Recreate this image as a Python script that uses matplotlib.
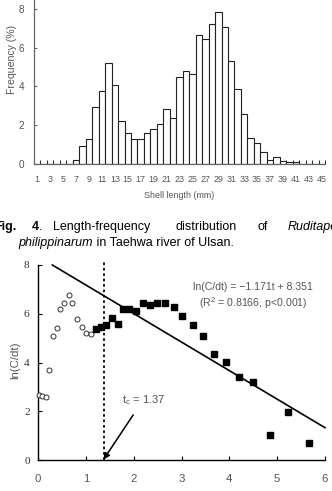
import matplotlib
matplotlib.use('Agg')
import matplotlib.pyplot as plt

# ---------------- data ----------------
shell_length_mm = list(range(1, 46))
frequency_pct = [0, 0, 0, 0, 0, 0, 0.19, 0.95, 1.27, 2.93, 3.79, 5.23, 4.08, 2.22, 1.58,
                 1.27, 1.27, 1.58, 1.79, 2.07, 2.86, 2.36, 4.47, 4.78, 4.65, 6.64, 6.44,
                 7.21, 7.85, 7.07, 5.30, 3.86, 2.56, 1.36, 1.07, 0.64, 0.19, 0.38, 0.14,
                 0.09, 0.09, 0, 0, 0, 0]
freq_yticks = [0, 2, 4, 6, 8]

age_open = [0.02, 0.09, 0.17, 0.24, 0.32, 0.39, 0.47, 0.55, 0.65, 0.72, 0.82, 0.92, 1.01, 1.10]
lncdt_open = [2.67, 2.63, 2.60, 3.69, 5.10, 5.40, 6.20, 6.46, 6.76, 6.46, 5.80, 5.44, 5.20, 5.16]
age_filled = [1.21, 1.31, 1.42, 1.54, 1.67, 1.78, 1.90, 2.04, 2.19, 2.34, 2.49, 2.66, 2.84,
              3.01, 3.23, 3.44, 3.67, 3.93, 4.20, 4.50, 4.85, 5.23, 5.67]
lncdt_filled = [5.36, 5.44, 5.54, 5.84, 5.58, 6.20, 6.20, 6.13, 6.46, 6.36, 6.44, 6.44, 6.29,
                5.92, 5.55, 5.08, 4.35, 4.01, 3.42, 3.21, 1.03, 1.98, 0.71]
slope = -1.171
intercept = 8.351
t_c = 1.37
fit_t_range = [0.30, 6.0]
age_ticks = [0, 1, 2, 3, 4, 5, 6]
ln_ticks = [0, 2, 4, 6, 8]

# ---------------- figure ----------------
W, H = 332, 491
fig = plt.figure(figsize=(W / 100, H / 100), dpi=100)
GRAY = '#555555'
SANS = ['Liberation Sans', 'DejaVu Sans']


def px_axes(left, top, right, bottom):
    return fig.add_axes([left / W, 1 - bottom / H, (right - left) / W, (bottom - top) / H])


# ---- top: histogram ----
ax1 = px_axes(34, 0, 325, 164)
ax1.bar(shell_length_mm, frequency_pct, width=1.0, color='white', edgecolor='#222222',
        linewidth=0.8, zorder=2)
ax1.set_xlim(0.5, 45.5)
ax1.set_ylim(0, 8.46)
for s in ['top', 'right']:
    ax1.spines[s].set_visible(False)
for s in ['left', 'bottom']:
    ax1.spines[s].set_color('#666666')
    ax1.spines[s].set_linewidth(0.9)
ax1.set_xticks(shell_length_mm[::2])
ax1.set_xticklabels([str(v) for v in shell_length_mm[::2]], family=SANS, fontsize=6.4, color=GRAY)
ax1.set_xticks([v + 0.5 for v in shell_length_mm], minor=True)
ax1.tick_params(axis='x', which='major', length=0, pad=8)
ax1.tick_params(axis='x', which='minor', length=3, direction='in', color='#333333', width=0.8)
ax1.set_yticks(freq_yticks)
ax1.set_yticklabels([str(v) for v in freq_yticks], family=SANS, fontsize=7.2, color=GRAY)
ax1.tick_params(axis='y', length=2, direction='in', color='#666666', pad=7)
ax1.set_ylabel('Frequency (%)', family=SANS, fontsize=7.6, color=GRAY, va='center')
ax1.yaxis.set_label_coords(-22 / 291, (164 - 59) / 164)
ax1.set_xlabel('Shell length (mm)', family=SANS, fontsize=6.4, color=GRAY, va='center')
ax1.xaxis.set_label_coords(0.498, -31 / 164)

# ---- caption ----
cap_fs = 9
CAP = 'Liberation Sans'
fig.text(-6 / W, 1 - 227 / H, 'Fig.', fontsize=cap_fs, fontweight='bold',
         family=CAP, va='center', ha='left')
fig.text(32 / W, 1 - 227 / H, '4', fontsize=cap_fs, fontweight='bold',
         family=CAP, va='center', ha='left')
fig.text(39 / W, 1 - 227 / H, '.', fontsize=cap_fs, family=CAP, va='center', ha='left')
fig.text(53 / W, 1 - 227 / H, 'Length-frequency', fontsize=cap_fs, family=CAP,
         va='center', ha='left')
fig.text(175 / W, 1 - 227 / H, 'distribution', fontsize=cap_fs, family=CAP,
         va='center', ha='left')
fig.text(257 / W, 1 - 227 / H, 'of', fontsize=cap_fs, family=CAP, va='center', ha='left')
fig.text(288 / W, 1 - 227 / H, 'Ruditapes', fontsize=cap_fs, family=CAP,
         style='italic', va='center', ha='left')
t1 = fig.text(18 / W, 1 - 243 / H, 'philippinarum', fontsize=cap_fs, family=CAP,
              style='italic', va='center', ha='left')
fig.canvas.draw()
bb = t1.get_window_extent()
fig.text(bb.x1 / W, 1 - 243 / H, ' in Taehwa river of Ulsan.', fontsize=cap_fs,
         family=CAP, va='center', ha='left')

# ---- bottom: catch curve ----
ax2 = px_axes(38, 265, 325, 460)
ax2.plot(age_open, lncdt_open, linestyle='none', marker='o', markersize=3.6,
         markerfacecolor='white', markeredgecolor='#333333', markeredgewidth=0.7, clip_on=False, zorder=3)
ax2.plot(age_filled, lncdt_filled, linestyle='none', marker='s', markersize=4.6,
         markerfacecolor='black', markeredgecolor='black', clip_on=False, zorder=3)
fit_y = [slope * t + intercept for t in fit_t_range]
ax2.plot(fit_t_range, fit_y, color='black', linewidth=1.2, clip_on=False, zorder=2)
ax2.plot([t_c, t_c], [0, 8.15], color='black', linestyle=(0, (1.4, 1.6)), linewidth=1.3,
         clip_on=False, zorder=2)
ax2.annotate('', xy=(t_c, 0.02), xytext=(1.99, 1.85),
             arrowprops=dict(arrowstyle='-|>', color='black', lw=1.1, mutation_scale=9,
                             shrinkA=0, shrinkB=0))
ax2.text(2.2, 2.45, 't$_\\mathregular{c}$ = 1.37', family=SANS, fontsize=8, color=GRAY,
         ha='center', va='center')
ax2.text(4.5, 7.11, 'ln(C/dt) = \u22121.171t + 8.351', family=SANS, fontsize=7.6, color=GRAY,
         ha='center', va='center')
ax2.text(4.5, 6.43, '(R$^\\mathregular{2}$ = 0.8166, p<0.001)', family=SANS, fontsize=7.6,
         color=GRAY, ha='center', va='center')
ax2.set_xlim(0, 6)
ax2.set_ylim(0, 8)
for s in ['top', 'right']:
    ax2.spines[s].set_visible(False)
for s in ['left', 'bottom']:
    ax2.spines[s].set_color('black')
    ax2.spines[s].set_linewidth(1.0)
ax2.set_xticks(age_ticks)
ax2.set_xticklabels([str(v) for v in age_ticks], family=SANS, fontsize=8.2, color=GRAY)
ax2.tick_params(axis='x', length=3, direction='in', pad=10, color='black')
ax2.set_yticks(ln_ticks)
ax2.set_yticklabels([str(v) for v in ln_ticks], family='Liberation Serif', fontsize=8.2, color='#333333')
ax2.tick_params(axis='y', length=3, direction='in', pad=6, color='black')
ax2.set_ylabel('ln(C/dt)', family=SANS, fontsize=8.2, color=GRAY, va='center')
ax2.yaxis.set_label_coords(-23 / 287, 0.513)
ax2.set_xlabel('Age (t)', family=SANS, fontsize=8, color=GRAY, va='center')
ax2.xaxis.set_label_coords(0.502, -37 / 195)

fig.savefig('out.png', dpi=100)
